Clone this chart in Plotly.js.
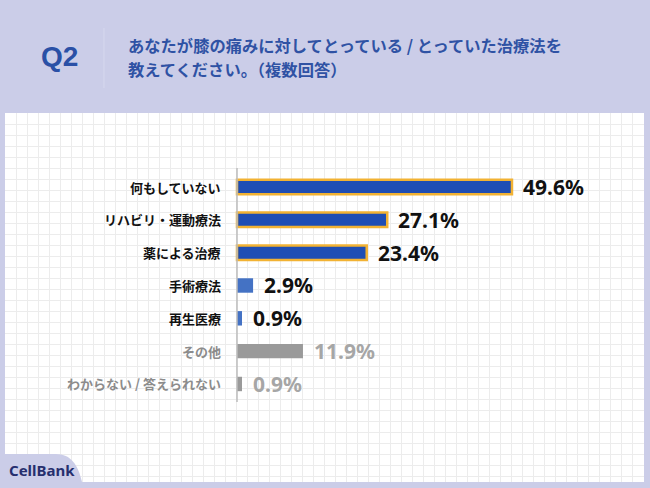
<!DOCTYPE html>
<html>
<head>
<meta charset="utf-8">
<script src="https://cdn.plot.ly/plotly-3.0.1.min.js"></script>
<style>html,body{margin:0;padding:0;background:#cbcde8;}#chart{width:650px;height:488px;}</style>
</head>
<body>
<div id="chart"></div>
<script>
// ---- data ----
const categories = ["何もしていない","リハビリ・運動療法","薬による治療","手術療法","再生医療","その他","わからない / 答えられない"];
const values = [49.6, 27.1, 23.4, 2.9, 0.9, 11.9, 0.9];
const valueLabels = ["49.6%","27.1%","23.4%","2.9%","0.9%","11.9%","0.9%"];
const barColors = ["#1f4eb4","#1f4eb4","#1f4eb4","#4472c4","#4472c4","#9a9a9a","#9a9a9a"];
const outlineColors = ["#f2b233","#f2b233","#f2b233","rgba(0,0,0,0)","rgba(0,0,0,0)","rgba(0,0,0,0)","rgba(0,0,0,0)"];
const outlineWidths = [2.5,2.5,2.5,0,0,0,0];
const labelColors = ["#111","#111","#111","#111","#111","#8c8c8c","#8c8c8c"];
const valueColors = ["#111","#111","#111","#111","#111","#a6a6a6","#a6a6a6"];
const titleLines = ["あなたが膝の痛みに対してとっている / とっていた治療法を","教えてください。（複数回答）"];

// ---- geometry helpers (pixels -> paper, margins are 0) ----
const W = 650, H = 488;
const px = x => x / W, py = y => 1 - y / H;
const panel = {x0: 5, x1: 644, y0: 113, y1: 482};
const zeroX = 237, pxPerPct = 5.544;
const rowTop = 187, rowStep = 32.83;

const xr = [(panel.x0 - zeroX) / pxPerPct, (panel.x1 - zeroX) / pxPerPct];
const yr = [(panel.y1 - rowTop) / rowStep, (panel.y0 - rowTop) / rowStep];
const xdom = [px(panel.x0), px(panel.x1)];
const ydom = [py(panel.y1), py(panel.y0)];

const cjk = '"Noto Sans CJK JP", "Noto Sans", sans-serif';

const gridTrace = {type: 'scatter', mode: 'markers', x: [panel.x0], y: [panel.y0],
  xaxis: 'x', yaxis: 'y', marker: {opacity: 0}, hoverinfo: 'skip'};

const trace = {
  type: 'bar', orientation: 'h',
  x: values, y: categories.map((c, i) => i),
  xaxis: 'x2', yaxis: 'y2',
  width: 0.44,
  marker: {color: barColors, line: {color: outlineColors, width: outlineWidths}},
  hoverinfo: 'skip'
};

const annotations = [];
values.forEach((v, i) => {
  annotations.push({
    x: v, y: i, xref: 'x2', yref: 'y2', xanchor: 'left', yanchor: 'middle',
    xshift: 9, text: valueLabels[i], showarrow: false,
    font: {family: '"Noto Sans", sans-serif', size: 21, weight: 'bold', color: valueColors[i]}
  });
  annotations.push({
    x: px(223), y: i, xref: 'paper', yref: 'y2', xanchor: 'right', yanchor: 'middle',
    text: categories[i], showarrow: false,
    font: {family: cjk, size: 13, weight: 'bold', color: labelColors[i]}
  });
});
annotations.push({
  x: px(59), y: py(56), xref: 'paper', yref: 'paper', xanchor: 'center', yanchor: 'middle',
  text: 'Q2', showarrow: false,
  font: {family: '"Liberation Sans", Arial, sans-serif', size: 28, weight: 'bold', color: '#2a50a6'}
});
titleLines.forEach((t, i) => {
  annotations.push({
    x: px(126), y: py(45 + i * 24), xref: 'paper', yref: 'paper', xanchor: 'left', yanchor: 'middle',
    text: t, showarrow: false,
    font: {family: cjk, size: 16.3, weight: 'bold', color: '#2f52a4'}
  });
});
annotations.push({
  x: px(7), y: py(470), xref: 'paper', yref: 'paper', xanchor: 'left', yanchor: 'middle',
  text: 'CellBank', showarrow: false,
  font: {family: '"Noto Sans", sans-serif', size: 15, weight: 'bold', color: '#262f6e'}
});

const tabPath = 'M' + px(5) + ',' + py(454) + ' L' + px(56) + ',' + py(454) +
  ' C' + px(71) + ',' + py(454) + ' ' + px(78) + ',' + py(465) + ' ' + px(82) + ',' + py(482) +
  ' L' + px(5) + ',' + py(482) + ' Z';

const shapes = [
  {type: 'rect', xref: 'paper', yref: 'paper', layer: 'below',
   x0: px(panel.x0), x1: px(panel.x1), y0: py(panel.y1), y1: py(panel.y0),
   fillcolor: '#ffffff', line: {width: 0}},
  {type: 'line', xref: 'paper', yref: 'paper', layer: 'below',
   x0: px(104), x1: px(104), y0: py(28), y1: py(88), line: {color: '#d6d8ee', width: 1}},
  {type: 'line', xref: 'x2', yref: 'paper', layer: 'above',
   x0: 0, x1: 0, y0: py(168), y1: py(402), line: {color: '#bdbdbd', width: 1.5}},
  {type: 'path', xref: 'paper', yref: 'paper', layer: 'above', path: tabPath,
   fillcolor: '#cbcde8', line: {width: 0}}
];

const layout = {
  width: W, height: H,
  margin: {l: 0, r: 0, t: 0, b: 0},
  paper_bgcolor: '#cbcde8', plot_bgcolor: 'rgba(0,0,0,0)',
  showlegend: false,
  xaxis: {domain: xdom, range: [panel.x0, panel.x1], tick0: panel.x0, dtick: 11,
          showgrid: true, gridcolor: '#ececec', gridwidth: 1, showticklabels: false, ticks: '',
          zeroline: false, showline: false, fixedrange: true},
  yaxis: {domain: ydom, range: [panel.y1, panel.y0], tick0: panel.y0, dtick: 11,
          showgrid: true, gridcolor: '#ececec', gridwidth: 1, showticklabels: false, ticks: '',
          zeroline: false, showline: false, fixedrange: true},
  xaxis2: {overlaying: 'x', anchor: 'y2', domain: xdom, range: xr, visible: false, showgrid: false, zeroline: false, fixedrange: true},
  yaxis2: {overlaying: 'y', anchor: 'x2', domain: ydom, range: yr, visible: false, showgrid: false, zeroline: false, fixedrange: true},
  annotations: annotations,
  shapes: shapes
};

Plotly.newPlot('chart', [gridTrace, trace], layout, {displayModeBar: false, staticPlot: true});
</script>
</body>
</html>
